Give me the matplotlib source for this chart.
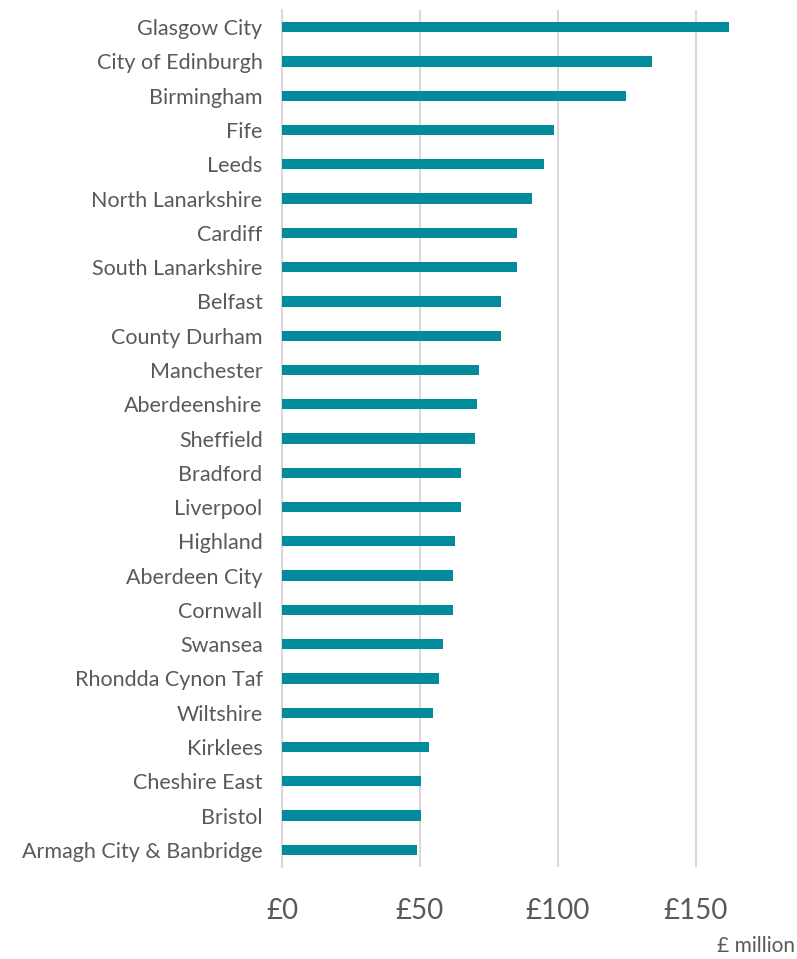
import matplotlib
matplotlib.use("Agg")
import matplotlib.pyplot as plt
import numpy as np

plt.rcParams['font.family'] = ['Lato', 'DejaVu Sans']

# Areas, largest first, with spend in £ million
areas = [
    "Glasgow City", "City of Edinburgh", "Birmingham", "Fife", "Leeds",
    "North Lanarkshire", "Cardiff", "South Lanarkshire", "Belfast",
    "County Durham", "Manchester", "Aberdeenshire", "Sheffield", "Bradford",
    "Liverpool", "Highland", "Aberdeen City", "Cornwall", "Swansea",
    "Rhondda Cynon Taf", "Wiltshire", "Kirklees", "Cheshire East", "Bristol",
    "Armagh City & Banbridge",
]
spend = [
    161.9, 133.9, 124.5, 98.4, 94.9,
    90.6, 85.2, 85.2, 79.4,
    79.4, 71.4, 70.7, 70.0, 64.9,
    64.9, 62.7, 62.0, 62.0, 58.4,
    57.0, 54.8, 53.3, 50.4, 50.4,
    49.0,
]
x_ticks = [0, 50, 100, 150]
x_tick_labels = ["£0", "£50", "£100", "£150"]

bar_col = "#028b9b"
grid_col = "#d9d9d9"
text_col = "#595959"

fig = plt.figure(figsize=(7.97, 9.59), dpi=100)
ax = fig.add_axes([0.3538, 0.0959, 0.6061, 0.8937])

y = np.arange(len(areas))
ax.barh(y, spend, height=0.3, color=bar_col, zorder=3)

ax.set_ylim(len(areas) - 0.5, -0.5)
ax.set_xlim(0, 175)

ax.set_yticks(y)
ax.set_yticklabels(areas, fontsize=15.5, color=text_col)
ax.set_xticks(x_ticks)
ax.set_xticklabels(x_tick_labels, fontsize=20, color=text_col)
ax.tick_params(axis='y', length=0, pad=14)
ax.tick_params(axis='x', length=0, pad=22)

ax.grid(axis='x', color=grid_col, linewidth=1.5, zorder=0)
for side in ['top', 'right', 'bottom']:
    ax.spines[side].set_visible(False)
ax.spines['left'].set_color(grid_col)
ax.spines['left'].set_linewidth(1.5)

fig.text(0.997, 0.003, "£ million", ha='right', va='bottom',
         fontsize=15, color=text_col)

fig.savefig("out.png", dpi=100)
